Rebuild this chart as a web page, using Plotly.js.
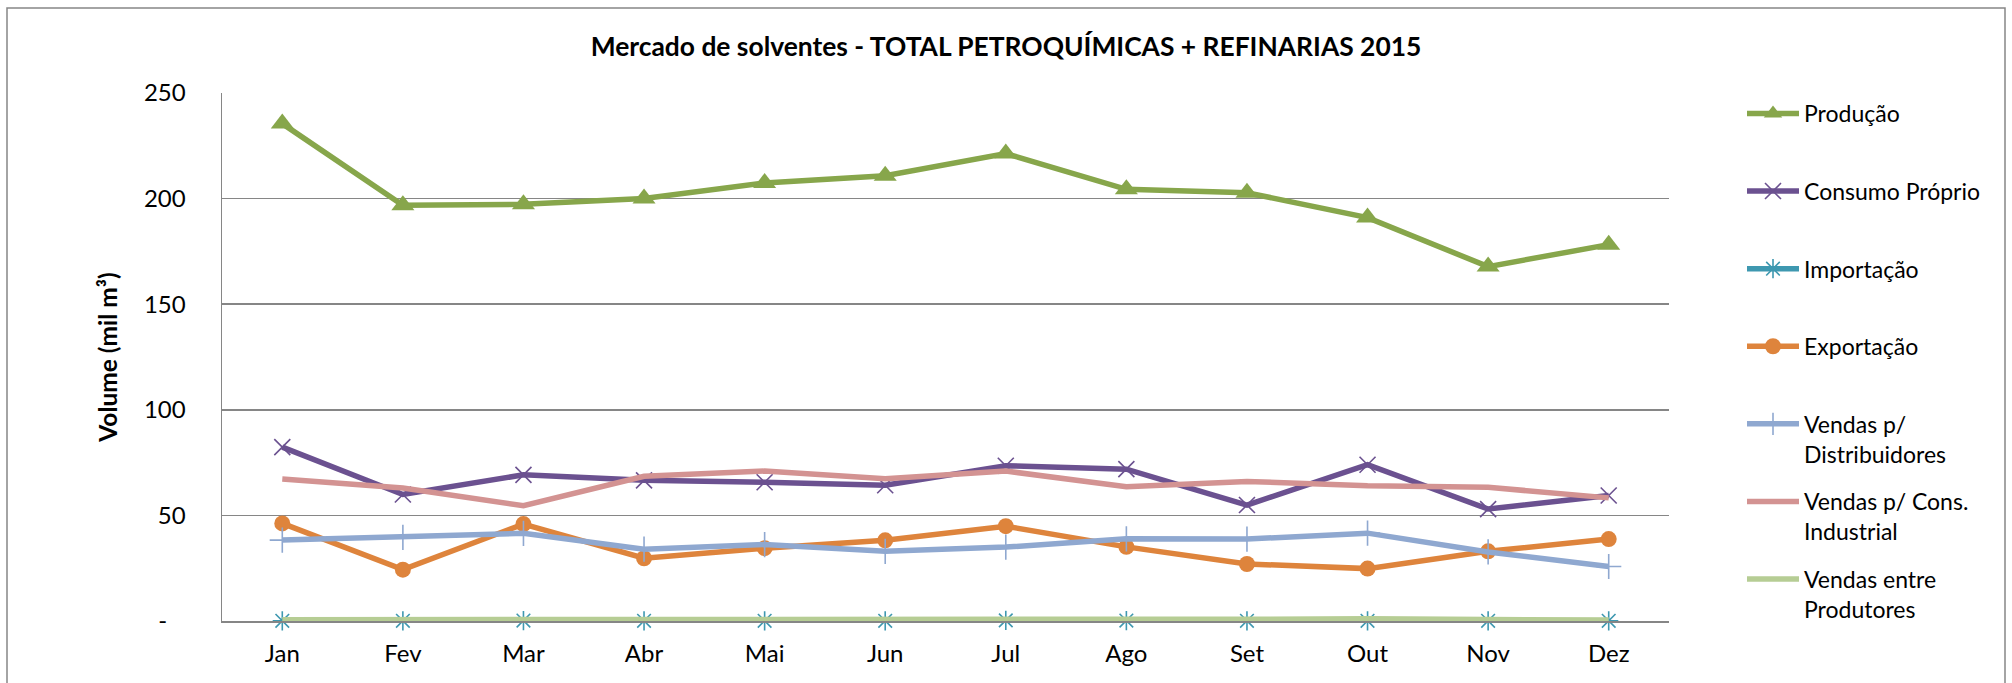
<!DOCTYPE html>
<html>
<head>
<meta charset="utf-8">
<script src="https://cdn.plot.ly/plotly-3.0.1.min.js"></script>
<style>
  html, body { margin: 0; padding: 0; background: #ffffff; }
  #chart { width: 2012px; height: 683px; }
</style>
</head>
<body>
<div id="chart"></div>
<script>
// ---- Data (mil m³) ----
const months = ['Jan','Fev','Mar','Abr','Mai','Jun','Jul','Ago','Set','Out','Nov','Dez'];
const producao = [235.5, 196.8, 197.3, 200.0, 207.4, 210.8, 221.3, 204.4, 202.8, 191.0, 167.8, 178.2];
const consumoProprio = [82.3, 59.9, 69.2, 66.6, 65.7, 64.3, 73.5, 71.9, 54.9, 74.0, 53.0, 59.4];
const importacao = [0.1, 0.1, 0.2, 0.1, 0.1, 0.1, 0.3, 0.2, 0.1, 0.1, 0.1, 0.1];
const exportacao = [46.2, 24.3, 45.9, 29.7, 34.5, 38.2, 44.9, 35.1, 27.0, 24.8, 33.0, 38.8];
const vendasDistribuidores = [38.3, 39.6, 41.5, 34.0, 36.2, 33.0, 35.0, 38.9, 38.8, 41.6, 32.7, 25.8];
const vendasConsIndustrial = [67.2, 63.0, 54.6, 68.5, 71.0, 67.3, 71.0, 63.6, 66.1, 64.0, 63.3, 58.3];
const vendasEntreProdutores = [0.6, 0.7, 0.9, 0.7, 0.6, 0.6, 1.0, 0.8, 0.8, 1.1, 0.7, 0.5];

const yTickVals = [0, 50, 100, 150, 200, 250];
const yTickText = ['-\u00a0\u00a0\u00a0', '50', '100', '150', '200', '250'];

const seriesNames = [
  'Produção<br>\u00a0',
  'Consumo Próprio<br>\u00a0',
  'Importação<br>\u00a0',
  'Exportação<br>\u00a0',
  'Vendas p/<br>Distribuidores',
  'Vendas p/ Cons.<br>Industrial',
  'Vendas entre<br>Produtores'
];

const FONT = 'Lato, "Open Sans", "Liberation Sans", sans-serif';

function tr(name, y, color, marker, group) {
  const t = {
    type: 'scatter',
    mode: marker ? 'lines+markers' : 'lines',
    x: months,
    y: y,
    name: name,
    legendgroup: group,
    line: { color: color, width: 5.5 },
    cliponaxis: false
  };
  if (marker) t.marker = marker;
  return t;
}

const traces = [
  tr(seriesNames[0], producao, '#87A64B',
     { symbol: 'triangle-up', size: 20, color: '#87A64B' }, 'g1'),
  tr(seriesNames[1], consumoProprio, '#6B5190',
     { symbol: 'x-thin-open', size: 16, color: '#6B5190', line: { color: '#6B5190', width: 1.6 } }, 'g2'),
  tr(seriesNames[2], importacao, '#3E98B0',
     { symbol: 'asterisk-open', size: 16, color: '#3E98B0', line: { color: '#3E98B0', width: 1.6 } }, 'g3'),
  tr(seriesNames[3], exportacao, '#DE843C',
     { symbol: 'circle', size: 16, color: '#DE843C' }, 'g4'),
  tr(seriesNames[4], vendasDistribuidores, '#8FA8D0',
     { symbol: 'cross-thin-open', size: 18, color: '#8FA8D0', line: { color: '#8FA8D0', width: 1.6 } }, 'g5'),
  tr(seriesNames[5], vendasConsIndustrial, '#D39392', null, 'g6'),
  tr(seriesNames[6], vendasEntreProdutores, '#B6CD94', null, 'g7')
];

const plotL = 222, plotR = 1669, plotT = 93, plotB = 621;
const W = 2012, H = 683;
const pw = plotR - plotL, ph = plotB - plotT;

const layout = {
  width: W,
  height: H,
  margin: { l: plotL, r: W - plotR, t: plotT, b: H - plotB, pad: 0 },
  paper_bgcolor: '#ffffff',
  plot_bgcolor: '#ffffff',
  font: { family: FONT, size: 23, color: '#000000' },
  title: {
    text: 'Mercado de solventes - TOTAL PETROQUÍMICAS + REFINARIAS 2015',
    font: { family: FONT, size: 26.4, color: '#000000', weight: 700 },
    x: 0.5, xref: 'container', xanchor: 'center',
    y: 1 - 47 / H, yref: 'container', yanchor: 'middle'
  },
  xaxis: {
    type: 'category',
    range: [-0.5, 11.5],
    showgrid: false,
    zeroline: false,
    showline: true,
    linecolor: '#868686',
    linewidth: 1.5,
    ticks: '',
    ticklabelstandoff: 11,
    tickfont: { family: FONT, size: 24, color: '#000000' },
    fixedrange: true
  },
  yaxis: {
    range: [0, 250],
    tickvals: yTickVals,
    ticktext: yTickText,
    showgrid: true,
    gridcolor: '#868686',
    gridwidth: 1.5,
    zeroline: false,
    showline: true,
    linecolor: '#868686',
    linewidth: 1.5,
    ticks: '',
    ticklabelstandoff: 30,
    tickfont: { family: FONT, size: 24, color: '#000000' },
    title: {
      text: 'Volume (mil m³)',
      font: { family: FONT, size: 24.5, color: '#000000', weight: 700 },
      standoff: 19
    },
    fixedrange: true
  },
  showlegend: true,
  legend: {
    x: (1742 - plotL) / pw,
    xanchor: 'left',
    y: (plotB - 92) / ph,
    yanchor: 'top',
    valign: 'top',
    itemwidth: 52,
    tracegroupgap: 14.8,
    maxheight: 1000,
    bgcolor: 'rgba(0,0,0,0)',
    font: { family: FONT, size: 23, color: '#000000' }
  },
  shapes: [
    {
      type: 'rect', xref: 'paper', yref: 'paper', layer: 'below',
      x0: (7 - plotL) / pw, x1: (2005 - plotL) / pw,
      y0: (plotB - 700) / ph, y1: (plotB - 8) / ph,
      line: { color: '#868686', width: 1.5 },
      fillcolor: 'rgba(0,0,0,0)'
    }
  ],
  hovermode: false
};

Plotly.newPlot('chart', traces, layout, { displayModeBar: false, staticPlot: true });
</script>
</body>
</html>
